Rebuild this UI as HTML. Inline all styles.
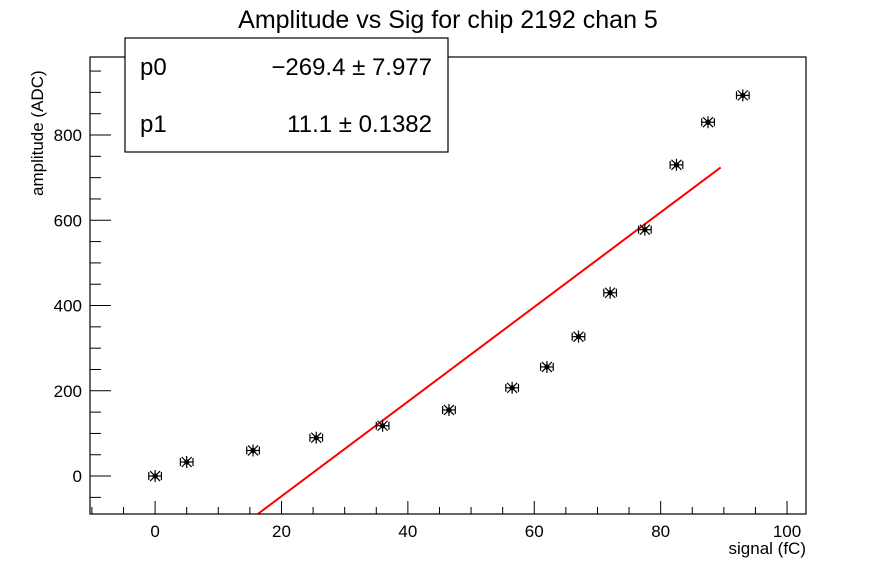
<!DOCTYPE html>
<html><head><meta charset="utf-8"><style>
body{margin:0;background:#fff}
svg{display:block;font-family:"Liberation Sans",Arial,sans-serif}
</style></head><body>
<svg id="chart" width="896" height="572" viewBox="0 0 896 572">
<rect width="896" height="572" fill="#fff"/>
<text x="448" y="28" font-size="25" text-anchor="middle">Amplitude vs Sig for chip 2192 chan 5</text>
<g id="axes"></g>
<g id="marks"></g>
<rect x="90" y="57" width="716" height="457" fill="none" stroke="#000" stroke-width="1.2"/>
<text x="806" y="554" font-size="17" text-anchor="end">signal (fC)</text>
<text transform="translate(43,196) rotate(-90)" font-size="17" text-anchor="start">amplitude (ADC)</text>
<g>
<rect x="125" y="38" width="323" height="114" fill="#fff" stroke="#000" stroke-width="1.2"/>
<text x="140" y="75" font-size="24">p0</text>
<text x="432" y="75" font-size="24" text-anchor="end">−269.4 ± 7.977</text>
<text x="140" y="132" font-size="24">p1</text>
<text x="432" y="132" font-size="24" text-anchor="end">11.1 ± 0.1382</text>
</g>
</svg>
<script>
const xs=[0,5,15.5,25.5,36,46.5,56.5,62,67,72,77.5,82.5,87.5,93];
const ys=[0,33,60,90,118,155,207,256,327,430,578,730,830,893];
const xErr=[1,1,1,1,1,1,1,1,1,1,1,1,1,1];
const fitP0=-269.4, fitP1=11.1, fitXmax=89.5;
const xTicks=[0,20,40,60,80,100];
const yTicks=[0,200,400,600,800];
const NS="http://www.w3.org/2000/svg";
const L=90,R=806,T=57,B=514,XMIN=-10.3,XMAX=103,YMIN=-89,YMAX=983;
const sx=v=>L+(v-XMIN)/(XMAX-XMIN)*(R-L);
const sy=v=>B-(v-YMIN)/(YMAX-YMIN)*(B-T);
function mk(tag,attrs,parent){const e=document.createElementNS(NS,tag);for(const k in attrs)e.setAttribute(k,attrs[k]);parent.appendChild(e);return e;}
const axes=document.getElementById('axes'),marks=document.getElementById('marks');
for(let v=-10;v<=100;v+=5){const x=sx(v);const major=v%20===0;
 const t=mk('line',{x1:x,x2:x,y1:B,y2:B-(major?13:7),stroke:'#000'},axes);
 
 }
xTicks.forEach(v=>{const t=mk('text',{x:sx(v),y:B+23,'font-size':17,'text-anchor':'middle'},axes);t.textContent=v;
 
 });
for(let v=-50;v<=950;v+=50){const y=sy(v);if(y<T||y>B)continue;const major=v%200===0;
 const t=mk('line',{x1:L,x2:L+(major?21:11),y1:y,y2:y,stroke:'#000'},axes);
 
 }
yTicks.forEach(v=>{const t=mk('text',{x:L-8,y:sy(v)+6,'font-size':17,'text-anchor':'end'},axes);t.textContent=v;
 
 });
const x0=(YMIN-fitP0)/fitP1;
const fit=mk('line',{x1:sx(x0),y1:sy(YMIN),x2:sx(fitXmax),y2:sy(fitP0+fitP1*fitXmax),stroke:'#f00','stroke-width':2},marks);


xs.forEach((xv,i)=>{const cx=sx(xv),cy=sy(ys[i]);
 const g=mk('g',{stroke:'#000','stroke-width':1.2},marks);
 
 
 const x1=sx(xv-xErr[i]),x2=sx(xv+xErr[i]);
 mk('line',{x1:x1,x2:x2,y1:cy,y2:cy},g);
 mk('line',{x1:x1,x2:x1,y1:cy-4,y2:cy+4},g);
 mk('line',{x1:x2,x2:x2,y1:cy-4,y2:cy+4},g);
 mk('line',{x1:cx,x2:cx,y1:cy-6,y2:cy+6},g);
 mk('line',{x1:cx-5,x2:cx+5,y1:cy-5,y2:cy+5},g);
 mk('line',{x1:cx-5,x2:cx+5,y1:cy+5,y2:cy-5},g);
 mk('circle',{cx:cx,cy:cy,r:2,fill:'#000'},g);
});
</script>
</body></html>
